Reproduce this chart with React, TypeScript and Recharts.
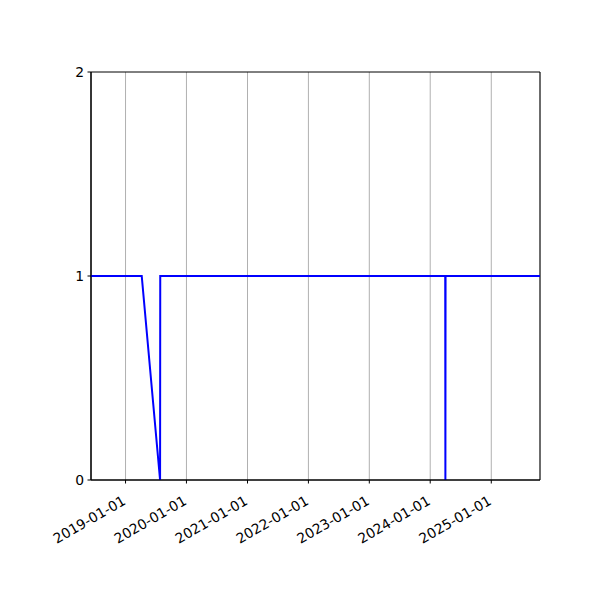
import { LineChart, Line, XAxis, YAxis, CartesianGrid, ReferenceArea } from "recharts"

const day = (y: number, m: number, d: number) => Date.UTC(y, m - 1, d)

// dates, values 0 / 1
const dates = [
  day(2018, 6, 8),
  day(2019, 4, 8),
  day(2019, 7, 27),
  day(2019, 7, 28),
  day(2024, 3, 31),
  day(2024, 4, 1),
  day(2024, 4, 2),
  day(2025, 10, 20),
]
const values = [1, 1, 0, 1, 1, 0, 1, 1]

const yearTicks = [2019, 2020, 2021, 2022, 2023, 2024, 2025].map(y => day(y, 1, 1))
const yTicks = [0, 1, 2]

const xMin = day(2018, 6, 8)
const xMax = day(2025, 10, 20)

const data = dates.map((t, i) => ({ time: t, value: values[i] }))

const fmt = (t: number) => new Date(t).toISOString().slice(0, 10)

const DateTick = ({ x, y, payload }: any) => (
  <g transform={`translate(${x - 4},${y + 9})`}>
    <text
      x={0}
      y={0}
      dy="0.75em"
      textAnchor="end"
      transform="rotate(-30)"
      fill="#000"
      fontSize={13.9}
      fontFamily="DejaVu Sans"
    >
      {fmt(payload.value)}
    </text>
  </g>
)

export default function App() {
  return (
    <div style={{ position: "absolute", left: 0, top: 0, background: "#fff" }}>
      <LineChart
        width={600}
        height={600}
        data={data}
        margin={{ top: 72, right: 60, bottom: 0, left: 0 }}
      >
        <CartesianGrid horizontal={false} stroke="#b0b0b0" strokeWidth={1} />
        <XAxis
          dataKey="time"
          type="number"
          scale="time"
          domain={[xMin, xMax]}
          ticks={yearTicks}
          tick={<DateTick />}
          height={120}
          stroke="#000"
          tickSize={3.5}
          interval={0}
          allowDataOverflow
        />
        <YAxis
          type="number"
          domain={[0, 2]}
          ticks={yTicks}
          width={91}
          stroke="#000"
          tickSize={3.5}
          tickMargin={3.5}
          tick={{ fill: "#000", fontSize: 13.9, fontFamily: "DejaVu Sans" }}
          interval={0}
        />
        <ReferenceArea
          x1={xMin}
          x2={xMax}
          y1={0}
          y2={2}
          fill="none"
          stroke="#000"
          strokeWidth={1}
          ifOverflow="visible"
        />
        <Line
          type="linear"
          dataKey="value"
          stroke="#0000ff"
          strokeWidth={2}
          dot={false}
          isAnimationActive={false}
        />
      </LineChart>
    </div>
  )
}
